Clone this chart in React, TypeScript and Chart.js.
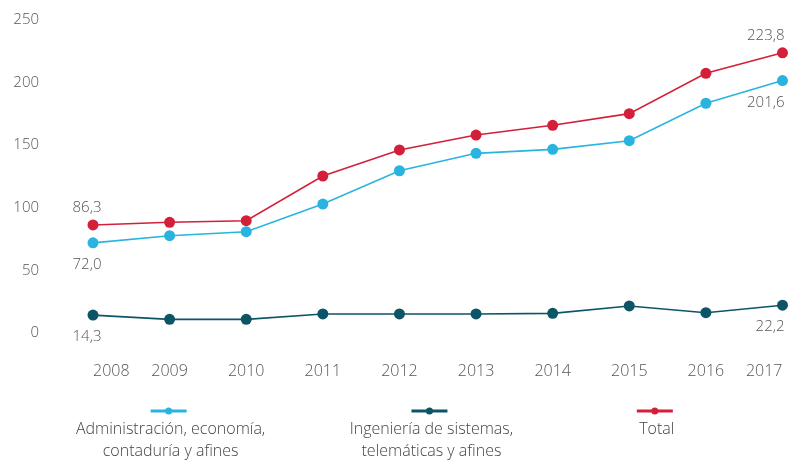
import React, { useEffect, useRef } from "react";
import { Chart, registerables } from "chart.js";

Chart.register(...registerables);

const years = ["2008", "2009", "2010", "2011", "2012", "2013", "2014", "2015", "2016", "2017"];
const administracion = [72.0, 77.7, 80.9, 103.0, 129.6, 143.5, 146.7, 153.6, 183.5, 201.6];
const ingenieria = [14.3, 10.9, 10.9, 15.2, 15.2, 15.2, 15.7, 21.6, 16.2, 22.2];
const total = [86.3, 88.4, 89.7, 125.4, 146.2, 158.1, 165.9, 175.2, 207.4, 223.8];
const yMin = 0;
const yMax = 250;
const yStep = 50;
const seriesNames = [
  ["Administración, economía,", "contaduría y afines"],
  ["Ingeniería de sistemas,", "telemáticas y afines"],
  ["Total"],
];
// which points carry a value label: [datasetIndex, dataIndex, "above"|"below"]
const labelledPoints: [number, number, string][] = [
  [2, 0, "above"],
  [0, 0, "below"],
  [1, 0, "below"],
  [2, 9, "above"],
  [0, 9, "below"],
  [1, 9, "below"],
];

const COLORS = ["#29B4DF", "#0C5566", "#D41F3A"];
const FONT = "'Open Sans', 'DejaVu Sans', sans-serif";
const TEXT = "#555555";

const fmt = (v: number) => v.toFixed(1).replace(".", ",");

const annotationsPlugin = {
  id: "annotations",
  afterDatasetsDraw(chart: any) {
    const ctx = chart.ctx;
    ctx.save();
    ctx.font = `300 15px ${FONT}`;
    ctx.fillStyle = TEXT;
    ctx.textBaseline = "middle";
    labelledPoints.forEach(([di, idx, pos]) => {
      const el = chart.getDatasetMeta(di).data[idx];
      const v = chart.data.datasets[di].data[idx];
      const txt = fmt(v);
      const y = pos === "above" ? el.y - 17 : el.y + 22;
      if (idx === 0) {
        ctx.textAlign = "center";
        ctx.fillText(txt, el.x - 6, y);
      } else {
        ctx.textAlign = "right";
        ctx.fillText(txt, Math.min(el.x + 2, chart.width - 1), y);
      }
    });
    ctx.restore();
  },
  afterDraw(chart: any) {
    const ctx = chart.ctx;
    const centers = [0.214, 0.545, 0.831];
    ctx.save();
    chart.data.datasets.forEach((ds: any, i: number) => {
      const cx = chart.width * centers[i];
      const ly = 411;
      ctx.strokeStyle = ds.borderColor;
      ctx.lineWidth = 3;
      ctx.beginPath();
      ctx.moveTo(cx - 18, ly);
      ctx.lineTo(cx + 18, ly);
      ctx.stroke();
      ctx.fillStyle = ds.borderColor;
      ctx.beginPath();
      ctx.arc(cx, ly, 3.5, 0, Math.PI * 2);
      ctx.fill();
      ctx.font = `300 16px ${FONT}`;
      ctx.fillStyle = "#444444";
      ctx.textAlign = "center";
      ctx.textBaseline = "middle";
      seriesNames[i].forEach((line, k) => {
        ctx.fillText(line, cx + 2, 429 + k * 22);
      });
    });
    ctx.restore();
  },
};

export default function App() {
  const ref = useRef<HTMLCanvasElement | null>(null);
  useEffect(() => {
    document.body.style.margin = "0";
    if (!ref.current) return;
    const mk = (label: string, data: number[], color: string) => ({
      label,
      data,
      borderColor: color,
      backgroundColor: color,
      pointBackgroundColor: color,
      pointBorderColor: color,
      pointRadius: 5.5,
      pointBorderWidth: 0,
      borderWidth: 1.6,
      tension: 0,
      clip: false as any,
    });
    const chart = new Chart(ref.current, {
      type: "line",
      data: {
        labels: years,
        datasets: [
          mk(seriesNames[0].join(" "), administracion, COLORS[0]),
          mk(seriesNames[1].join(" "), ingenieria, COLORS[1]),
          mk(seriesNames[2].join(" "), total, COLORS[2]),
        ],
      },
      options: {
        animation: false,
        responsive: false,
        maintainAspectRatio: false,
        layout: { padding: { top: 20, right: 5, bottom: 80, left: 0 } },
        plugins: { legend: { display: false }, tooltip: { enabled: false } },
        scales: {
          x: {
            offset: false,
            grid: { display: false, drawTicks: false },
            border: { display: false },
            ticks: {
              align: "inner",
              padding: 29,
              maxRotation: 0,
              autoSkip: false,
              color: TEXT,
              font: { family: FONT, size: 16, weight: "300" as any },
            },
            afterFit: (s: any) => {
              s.paddingLeft = 0;
              s.paddingRight = 0;
              s.paddingTop = 0;
              s.paddingBottom = 0;
              s.height = 48;
            },
          },
          y: {
            min: yMin,
            max: yMax,
            grid: { display: false, drawTicks: false },
            border: { display: false },
            ticks: {
              stepSize: yStep,
              padding: 54,
              color: TEXT,
              font: { family: FONT, size: 15, weight: "300" as any },
            },
            afterFit: (s: any) => {
              s.width = 93;
              s.paddingTop = 0;
              s.paddingBottom = 0;
            },
          },
        },
      },
      plugins: [annotationsPlugin],
    });
    return () => chart.destroy();
  }, []);
  return (
    <div style={{ width: 788, height: 461 }}>
      <canvas ref={ref} width={788} height={461} />
    </div>
  );
}
